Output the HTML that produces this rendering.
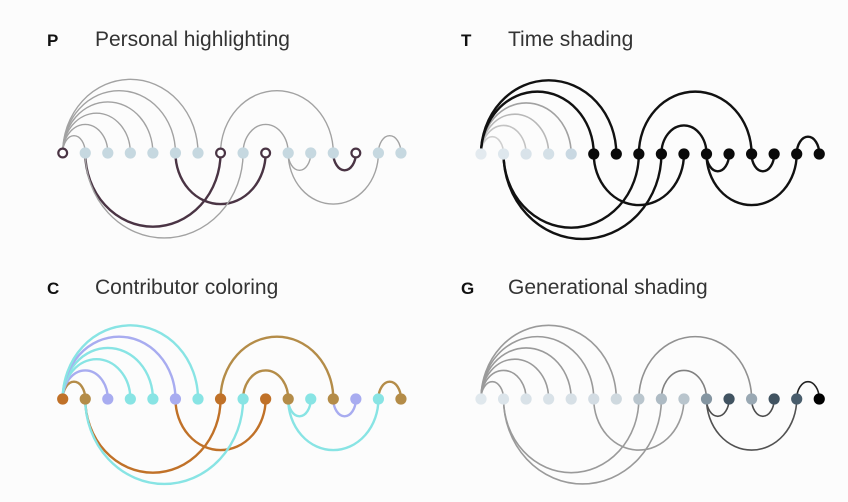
<!DOCTYPE html>
<html><head><meta charset="utf-8"><style>
html,body{margin:0;padding:0;background:#fcfcfc;}
svg{display:block;}
text{font-family:"Liberation Sans",sans-serif;}
</style></head><body>
<svg id="c" width="848" height="502">
<text x="47" y="46" font-size="17" font-weight="bold" fill="#111">P</text>
<text x="95" y="46" font-size="21" fill="#333">Personal highlighting</text>
<text x="461" y="46" font-size="17" font-weight="bold" fill="#111">T</text>
<text x="508" y="46" font-size="21" fill="#333">Time shading</text>
<text x="47" y="294" font-size="17" font-weight="bold" fill="#111">C</text>
<text x="95" y="294" font-size="21" fill="#333">Contributor coloring</text>
<text x="461" y="294" font-size="17" font-weight="bold" fill="#111">G</text>
<text x="508" y="294" font-size="21" fill="#333">Generational shading</text>
</svg>
<script>
// edges: source, target, side (1 = above, -1 = below)
const edgeSource = [0,0,0,0,0,0,7,8,14,1,5,1,10,10,12];
const edgeTarget = [1,2,3,4,5,6,12,10,15,7,9,8,11,14,13];
const edgeSide   = [1,1,1,1,1,1,1,1,1,-1,-1,-1,-1,-1,-1];
const nodeCount = 16;
// panel P: highlighted (own) nodes
const pOwn = [0,7,9,13];
// panel C: contributor per node (0 brown,1 tan,2 blue,3 cyan)
const cContrib = [0,1,2,3,3,2,3,0,3,0,1,3,1,2,3,1];
// panel T: node time (0 old/faded, 1 recent)
const tShade = [0.05,0.1,0.15,0.2,0.3,1,1,1,1,1,1,1,1,1,1,1];
// panel G: generation darkness 0..1
const gShade = [0.02,0.04,0.05,0.05,0.06,0.08,0.1,0.2,0.25,0.2,0.45,0.75,0.35,0.75,0.72,1];

const svg=document.getElementById('c');
const NS='http://www.w3.org/2000/svg';
const panels=[
 {id:'p',x0:62.7,y:153},{id:'t',x0:481,y:154},
 {id:'c',x0:62.7,y:399},{id:'g',x0:481,y:399}];
const step=22.55;
const contribColors=['#c07128','#b48c48','#a8acf0','#88e4e4'];
function mix(a,b,t){t=Math.max(0,Math.min(1,t));const p=s=>[1,3,5].map(i=>parseInt(s.substr(i,2),16));const A=p(a),B=p(b);return 'rgb('+A.map((v,i)=>Math.round(v+(B[i]-v)*t)).join(',')+')';}
function gCol(v){return v<0.7?mix('#e4ecf1','#4e6474',v/0.7):mix('#4e6474','#000000',(v-0.7)/0.3);}
panels.forEach(P=>{
 const sx=i=>P.x0+i*step;
 const g=document.createElementNS(NS,'g');
 
 
 svg.appendChild(g);
 edgeSource.forEach((s,k)=>{
  const t=edgeTarget[k],side=edgeSide[k];
  const x1=sx(s),x2=sx(t),r=(x2-x1)/2,ry=r+(side>0?6:6);
  const path=document.createElementNS(NS,'path');
  path.setAttribute('d',`M${x1},${P.y} A${r},${ry} 0 0 ${side>0?1:0} ${x2},${P.y}`);
  let col='#a2a2a2',w=1.4;
  if(P.id==='p'){ if(pOwn.includes(t)&&t!==0){col='#4a3444';w=2.4;} }
  if(P.id==='c'){ col=contribColors[cContrib[t]];w=2.4; }
  if(P.id==='t'){ const v=tShade[t]; col=v>=1?'#111':mix('#e6e6e6','#999999',v*3); w=v>=1?2.4:1.6; }
  if(P.id==='g'){ col=mix('#9a9a9a','#222222',(gShade[t]-0.3)/0.7); w=1.6; }
  path.setAttribute('fill','none');path.setAttribute('stroke',col);path.setAttribute('stroke-width',w);
  
  
  g.appendChild(path);
 });
 for(let i=0;i<nodeCount;i++){
  const c=document.createElementNS(NS,'circle');
  c.setAttribute('cx',sx(i));c.setAttribute('cy',P.y);c.setAttribute('r',5.6);
  if(P.id==='p'){ if(pOwn.includes(i)){c.setAttribute('fill','#fff');c.setAttribute('stroke','#4a3444');c.setAttribute('stroke-width',2.2);c.setAttribute('r',4.4);} else c.setAttribute('fill','#c6d8e0'); }
  if(P.id==='c') c.setAttribute('fill',contribColors[cContrib[i]]);
  if(P.id==='t') c.setAttribute('fill',tShade[i]>=1?'#0a0a0a':mix('#e8eef2','#c6d6e0',tShade[i]*3));
  if(P.id==='g') c.setAttribute('fill',gCol(gShade[i]));
  
  
  g.appendChild(c);
 }
});
</script>
</body></html>
